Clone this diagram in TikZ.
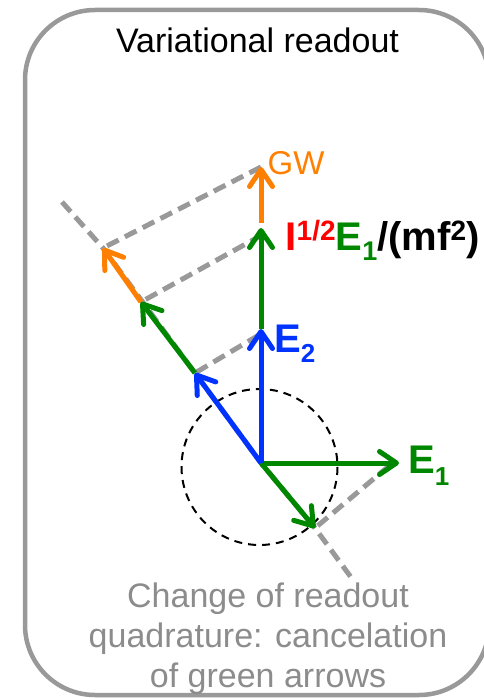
\documentclass[tikz,border=0pt]{standalone}
\usepackage{fontspec}
\setmainfont{Liberation Sans}
\usetikzlibrary{arrows.meta}
\definecolor{vgreen}{RGB}{0,135,0}
\definecolor{vblue}{RGB}{0,51,255}
\definecolor{vorange}{RGB}{255,128,0}
\definecolor{vred}{RGB}{255,0,0}
\definecolor{vgray}{RGB}{153,153,153}
\definecolor{vtext}{RGB}{140,140,140}
\begin{document}
\begin{tikzpicture}[x=1pt,y=-1pt,
  vec/.style={line width=5pt, -{Straight Barb[length=17pt,width=23pt,round]}},
  proj/.style={vgray, line width=5pt, dash pattern=on 13pt off 7pt},
  circ/.style={black, line width=2pt, dash pattern=on 8pt off 6pt},
  frame/.style={vgray, line width=4.5pt, rounded corners=70pt},
  bold/.style={inner sep=0pt, anchor=base west, font=\bfseries\fontsize{40}{44}\selectfont},
  graytext/.style={inner sep=0pt, anchor=base, text=vtext, font=\fontsize{34}{40}\selectfont}]
\useasboundingbox (0,0) rectangle (484,698);
\draw[frame] (25,10) rectangle (489,695);
\node[inner sep=0pt, anchor=base, font=\fontsize{34}{40}\selectfont] (title) at (257.5,53) {Variational readout};
% points
\coordinate (O) at (261,463);
\coordinate (E1t) at (399,463);
\coordinate (E2t) at (261,329);
\coordinate (Gs) at (261,329);
\coordinate (Gt) at (261,228);
\coordinate (Ws) at (261,223);
\coordinate (Wt) at (261,167);
\coordinate (B1) at (195,373);
\coordinate (B2) at (141,302);
\coordinate (B3) at (103,248);
\coordinate (D) at (315,528);
\coordinate (A1) at (62,202);
\coordinate (A2) at (353,580);
% circle
\draw[circ] (259.5,467) circle (78);
% dashed guide lines
\draw[proj] (A1) -- (B3) -- (O) -- (D) -- (A2);
\draw[proj] (Wt) -- (B3);
\draw[proj] (262,235) -- (B2);
\draw[proj] (259,335) -- (B1);
\draw[proj] (389,466) -- (D);
% vectors
\draw[vec, vgreen] (O) -- (E1t);
\draw[vec, vgreen] (O) -- (D);
\draw[vec, vblue] (O) -- (E2t);
\draw[vec, vgreen] (Gs) -- (Gt);
\draw[vec, vorange] (Ws) -- (Wt);
\draw[vec, vblue] (O) -- (B1);
\draw[vec, vgreen] (B1) -- (B2);
\draw[vec, vorange] (B2) -- (B3);
% labels
\node[inner sep=0pt, anchor=base west, text=vorange, font=\fontsize{33}{36}\selectfont] (gw) at (267.5,174) {GW};
\node[bold] (lab) at (285.4,250) {\textcolor{vred}{I\raisebox{10pt}{\fontsize{28}{28}\selectfont 1/2}}\textcolor{vgreen}{E\raisebox{-10pt}{\fontsize{27}{27}\selectfont 1}}/(mf\raisebox{10pt}{\fontsize{28}{28}\selectfont 2})};
\node[bold, text=vblue] (e2) at (274,352) {E\raisebox{-10pt}{\fontsize{26}{26}\selectfont 2}};
\node[bold, text=vgreen] (e1) at (408,473) {E\raisebox{-12pt}{\fontsize{26}{26}\selectfont 1}};
\node[graytext] (c1) at (268,607) {Change of readout};
\node[graytext] (c2) at (268,647) {quadrature: cancelation};
\node[graytext] (c3) at (268,687) {of green arrows};
\end{tikzpicture}
\end{document}
